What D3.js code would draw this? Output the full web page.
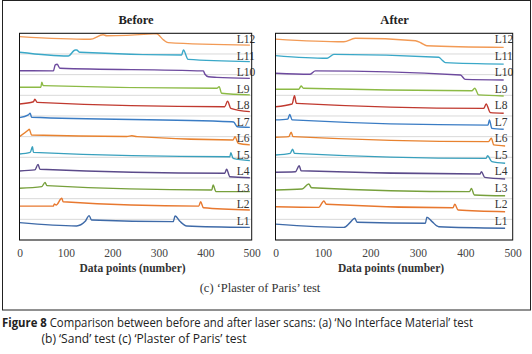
<!DOCTYPE html>
<html><head><meta charset="utf-8">
<script src="https://cdn.jsdelivr.net/npm/d3@7"></script>
<style>html,body{margin:0;padding:0;background:#fff;}svg{display:block;}</style>
</head><body>
<script>
// ---- data ----
const lineLabels = ["L1","L2","L3","L4","L5","L6","L7","L8","L9","L10","L11","L12"];
const lineColors = ["#3e6aa8","#e8782f","#77a03c","#5b4a8a","#38a0bd","#e8822f","#3a7cc4","#c0392f","#8cba45","#6d4a9e","#3aa8c8","#f29a55"];
const xTicks = [0,100,200,300,400,500];
const panelTitles = ["Before","After"];

const beforeL1  = [[0,0.84],[123,0.68],[141,0.89],[150,1.18],[155,0.97],[331,0.89],[335,1.16],[346,0.89],[360,0.68],[496,0.61]];
const beforeL2  = [[0,1.64],[73,1.64],[75,1.74],[79,1.69],[91,2.02],[94,1.85],[386,1.64],[390,1.85],[396,1.56],[496,1.45]];
const beforeL3  = [[0,2.50],[48,2.58],[55,2.79],[59,2.63],[414,2.42],[417,2.66],[423,2.34],[496,2.34]];
const beforeL4  = [[0,3.34],[33,3.39],[40,3.66],[44,3.42],[442,3.23],[446,3.42],[453,3.06],[496,3.01]];
const beforeL5  = [[0,4.16],[23,4.24],[28,4.51],[30,4.24],[453,4.03],[455,4.22],[460,3.95],[496,3.84]];
const beforeL6  = [[0,5.00],[19,5.32],[21,5.36],[26,5.08],[231,5.01],[242,5.04],[253,5.00],[460,4.84],[464,5.00],[471,4.68],[496,4.60]];
const beforeL7  = [[0,5.92],[19,6.05],[23,6.13],[26,5.94],[457,5.72],[461,5.71],[469,5.48],[496,5.45]];
const beforeL8  = [[0,6.58],[30,6.69],[33,6.81],[38,6.66],[442,6.45],[448,6.72],[455,6.37],[496,6.21]];
const beforeL9  = [[0,7.39],[46,7.39],[48,7.63],[51,7.47],[425,7.34],[430,7.42],[435,7.10],[496,7.02]];
const beforeL10 = [[0,8.19],[73,8.18],[77,8.47],[81,8.50],[87,8.31],[396,8.18],[399,8.03],[407,7.90],[425,7.87],[496,7.82]];
const beforeL11 = [[0,9.08],[105,8.90],[120,9.19],[123,9.19],[130,9.08],[349,8.95],[353,9.19],[363,8.74],[496,8.63]];
const beforeL12 = [[0,9.84],[152,9.71],[180,9.93],[188,9.88],[288,9.97],[295,9.98],[310,9.68],[320,9.55],[496,9.43]];

const afterL1  = [[0,0.77],[144,0.61],[157,0.84],[167,1.05],[172,0.86],[316,0.81],[319,1.10],[330,0.89],[344,0.64],[484,0.57]];
const afterL2  = [[0,1.61],[91,1.58],[102,1.89],[107,1.73],[374,1.56],[378,1.73],[385,1.45],[484,1.37]];
const afterL3  = [[0,2.42],[56,2.47],[70,2.71],[76,2.53],[409,2.34],[413,2.50],[419,2.18],[484,2.14]];
const afterL4  = [[0,3.28],[42,3.30],[50,3.59],[54,3.35],[431,3.19],[434,3.30],[441,3.03],[484,2.95]];
const afterL5  = [[0,4.11],[31,4.19],[36,4.39],[40,4.19],[444,3.95],[447,4.08],[456,3.79],[484,3.71]];
const afterL6  = [[0,4.97],[28,5.00],[33,5.21],[37,5.00],[449,4.76],[455,4.92],[460,4.60],[484,4.55]];
const afterL7  = [[0,5.81],[26,5.85],[30,6.08],[35,5.81],[448,5.56],[451,5.81],[456,5.40],[481,5.36]];
const afterL8  = [[0,6.45],[35,6.58],[40,6.98],[44,6.61],[439,6.37],[444,6.58],[453,6.16],[481,6.13]];
const afterL9  = [[0,7.29],[49,7.29],[54,7.45],[59,7.34],[414,7.22],[420,7.34],[428,7.02],[481,6.97]];
const afterL10 = [[0,8.07],[73,8.02],[84,8.18],[390,7.98],[400,7.77],[481,7.74]];
const afterL11 = [[0,8.92],[109,8.79],[123,8.98],[344,8.84],[351,8.71],[358,8.58],[481,8.51]];
const afterL12 = [[0,9.72],[144,9.59],[168,9.76],[295,9.64],[307,9.53],[319,9.40],[481,9.32]];

const beforeSeries = [beforeL1,beforeL2,beforeL3,beforeL4,beforeL5,beforeL6,beforeL7,beforeL8,beforeL9,beforeL10,beforeL11,beforeL12];
const afterSeries  = [afterL1,afterL2,afterL3,afterL4,afterL5,afterL6,afterL7,afterL8,afterL9,afterL10,afterL11,afterL12];
const gridValues = [0,1,2,3,4,5,6,7,8,9,10];

// ---- drawing ----
const W = 532, H = 354;
const svg = d3.select("body").append("svg").attr("width", W).attr("height", H);
const serif = "'Liberation Serif','DejaVu Serif',serif";

// outer frame
svg.append("rect").attr("x",2.5).attr("y",0.5).attr("width",528).attr("height",309.5)
  .attr("fill","none").attr("stroke","#222").attr("stroke-width",1);

const panels = [
  {title: panelTitles[0], series: beforeSeries, x0: 19.5, x1: 251.7, labelOffset: 15},
  {title: panelTitles[1], series: afterSeries,  x0: 275.5, x1: 512.7, labelOffset: 18}
];
const yTop = 33.3, yBot = 240;

panels.forEach(p => {
  const x = d3.scaleLinear().domain([0,500]).range([p.x0, p.x1]);
  const y = d3.scaleLinear().domain([0,10]).range([yBot, yTop]);
  const g = svg.append("g");

  // gridlines
  g.selectAll("line.grid").data(gridValues).enter().append("line")
    .attr("x1", p.x0).attr("x2", p.x1)
    .attr("y1", d => y(d)).attr("y2", d => y(d))
    .attr("stroke", "#d9d9d9").attr("stroke-width", 1);

  // traces
  const line = d3.line().x(d => x(d[0])).y(d => y(d[1])).curve(d3.curveMonotoneX);
  g.selectAll("path.trace").data(p.series).enter().append("path")
    .attr("d", line)
    .attr("fill", "none")
    .attr("stroke", (d,i) => lineColors[i])
    .attr("stroke-width", 1.4)
    .attr("stroke-linejoin", "round");

  // line labels
  const labelY = d3.scaleLinear().domain([0,11]).range([225, 43]);
  g.selectAll("text.lab").data(lineLabels).enter().append("text")
    .attr("x", p.x1 - p.labelOffset)
    .attr("y", (d,i) => labelY(i))
    .attr("font-family", serif).attr("font-size", 11.5).attr("fill", "#333")
    .text(d => d);

  // plot border
  g.append("rect").attr("x", p.x0).attr("y", yTop).attr("width", p.x1 - p.x0).attr("height", yBot - yTop)
    .attr("fill","none").attr("stroke","#111").attr("stroke-width",1);

  // x axis (labels only)
  const ax = g.append("g").attr("transform", `translate(0,${yBot + 5})`)
    .call(d3.axisBottom(x).tickValues(xTicks).tickSize(0).tickPadding(4));
  ax.select(".domain").remove();
  ax.selectAll("text").attr("font-family", serif).attr("font-size", 11.5).attr("fill", "#444");

  // axis title
  g.append("text").attr("x", (p.x0 + p.x1)/2 - 3).attr("y", 272)
    .attr("text-anchor","middle").attr("font-family", serif).attr("font-size", 11.5)
    .attr("font-weight","bold").attr("fill","#333").text("Data points (number)");

  // panel title
  g.append("text").attr("x", (p.x0 + p.x1)/2 + 0.5).attr("y", 24)
    .attr("text-anchor","middle").attr("font-family", serif).attr("font-size", 12.5)
    .attr("font-weight","bold").attr("fill","#222").text(p.title);
});

svg.append("text").attr("x", 260).attr("y", 292).attr("text-anchor","middle")
  .attr("font-family", serif).attr("font-size", 12.5).attr("fill","#333")
  .text("(c) \u2018Plaster of Paris\u2019 test");

// caption
const sans = "'Open Sans','Noto Sans','Liberation Sans',sans-serif";
const cap1 = svg.append("text").attr("x", 2).attr("y", 327)
  .attr("font-family", sans).attr("font-size", 12).attr("fill","#222")
  .attr("textLength", 471).attr("lengthAdjust","spacingAndGlyphs");
cap1.append("tspan").attr("font-weight","bold").text("Figure 8");
cap1.append("tspan").text(" Comparison between before and after laser scans: (a) \u2018No Interface Material\u2019 test");
svg.append("text").attr("x", 41.5).attr("y", 343)
  .attr("font-family", sans).attr("font-size", 12).attr("fill","#222")
  .attr("textLength", 205).attr("lengthAdjust","spacingAndGlyphs")
  .text("(b) \u2018Sand\u2019 test (c) \u2018Plaster of Paris\u2019 test");
</script>
</body></html>
